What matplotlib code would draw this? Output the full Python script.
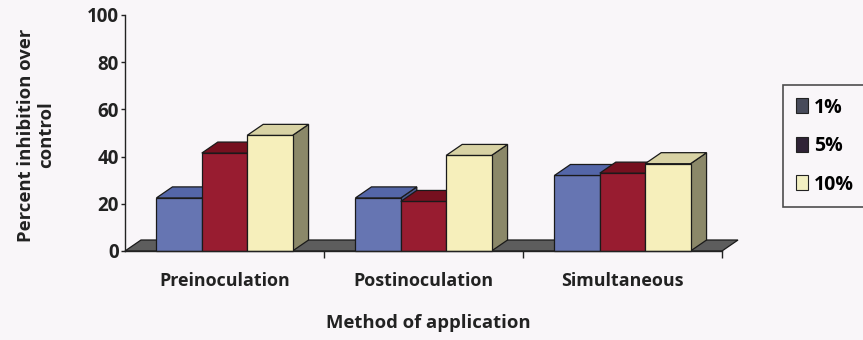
import numpy as np
import matplotlib.pyplot as plt
from matplotlib.patches import Polygon, Patch

plt.rcParams['font.family'] = ['Open Sans', 'DejaVu Sans']
plt.rcParams['font.weight'] = 'bold'

methods = ['Preinoculation', 'Postinoculation', 'Simultaneous']
doses = ['1%', '5%', '10%']
inhibition_1 = [22.5, 22.5, 32.0]
inhibition_5 = [41.5, 21.0, 33.0]
inhibition_10 = [49.0, 40.5, 37.0]

# front, top, side shades for each dose
face_colors = ['#6675b2', '#981c30', '#f6efbb']
top_colors = ['#5466a8', '#76101f', '#d8d2a4']
side_colors = ['#4a588f', '#5e0c18', '#8b8869']
legend_colors = ['#484b5b', '#2f2336', '#f2efc2']
bg = '#f9f6f9'
ink = '#222222'

W, H = 863, 340
fig = plt.figure(figsize=(W / 100, H / 100), dpi=100, facecolor=bg)
ax_l, ax_r, ax_t, ax_b = 125, 722, 15, 251
ax = fig.add_axes([ax_l / W, 1 - ax_b / H, (ax_r - ax_l) / W, (ax_b - ax_t) / H])
ax.set_facecolor(bg)
ax.set_xlim(0, 3)
ax.set_ylim(0, 100)

# depth offset of the pseudo-3D boxes, pixels -> data units
dx = 16 * 3 / (ax_r - ax_l)
dy = 11 * 100 / (ax_b - ax_t)


def poly(pts, fc):
    ax.add_patch(Polygon(pts, closed=True, facecolor=fc, edgecolor='#1a1a1a',
                         linewidth=0.9, clip_on=False))


# floor
poly([(0, 0), (3, 0), (3 + dx, dy), (dx, dy)], '#5d5d5d')

width = 0.228
values = [inhibition_1, inhibition_5, inhibition_10]
for g in range(len(methods)):
    for k in range(len(doses)):
        x0 = g + 0.5 + (k - 1.5) * width
        x1 = x0 + width
        h = values[k][g]
        poly([(x1, 0), (x1 + dx, dy), (x1 + dx, h + dy), (x1, h)], side_colors[k])
        poly([(x0, 0), (x1, 0), (x1, h), (x0, h)], face_colors[k])
        poly([(x0, h), (x1, h), (x1 + dx, h + dy), (x0 + dx, h + dy)], top_colors[k])

for s in ['top', 'right']:
    ax.spines[s].set_visible(False)
for s in ['left', 'bottom']:
    ax.spines[s].set_color(ink)
    ax.spines[s].set_linewidth(1.0)

ax.set_yticks(np.arange(0, 101, 20))
ax.tick_params(axis='y', length=3, width=1, pad=1.5, labelsize=13.5, colors=ink)
ax.set_xticks([0.5, 1.5, 2.5])
ax.set_xticklabels(methods)
ax.tick_params(axis='x', which='major', length=0, pad=15, labelsize=12.9, colors=ink)
ax.set_xticks([1, 2, 3], minor=True)
ax.tick_params(axis='x', which='minor', length=5, width=1, color=ink)
for lab in ax.get_yticklabels() + ax.get_xticklabels():
    lab.set_fontweight('bold')

fig.text(428 / W, 1 - 323 / H, 'Method of application', ha='center', va='center',
         fontsize=13.3, fontweight='bold', color=ink)
fig.text(36 / W, 1 - 135 / H, 'Percent inhibition over\ncontrol', rotation=90,
         ha='center', va='center', multialignment='center', fontsize=13.3,
         fontweight='bold', color=ink, linespacing=1.2)

handles = [Patch(facecolor=c, edgecolor=ink, linewidth=0.8) for c in legend_colors]
leg = fig.legend(handles, doses, loc='upper left', borderaxespad=0,
                 bbox_to_anchor=(783 / W, 1 - 85 / H), frameon=True, fancybox=False,
                 edgecolor=ink, facecolor=bg, handlelength=0.65, handleheight=0.8,
                 handletextpad=0.3, labelspacing=0.95, borderpad=0.65,
                 prop={'size': 14, 'weight': 'bold'})
leg.get_frame().set_linewidth(1.2)

fig.savefig('out.png', dpi=100, facecolor=bg)
